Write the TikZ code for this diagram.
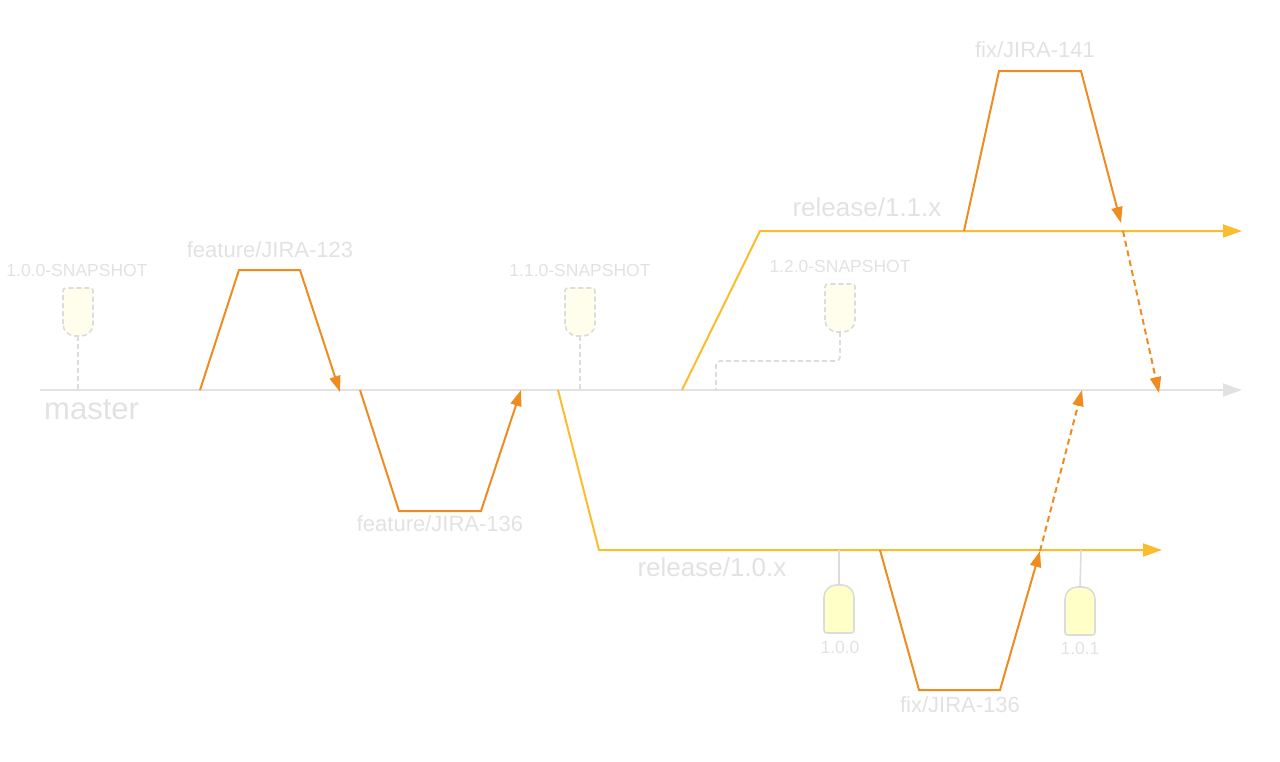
\documentclass[tikz,border=0pt]{standalone}
\usepackage{fontspec}
\setmainfont{Liberation Sans}
\usetikzlibrary{arrows.meta}
\definecolor{gitgrey}{HTML}{E2E2E2}
\definecolor{featorange}{HTML}{EF8C1F}
\definecolor{relyellow}{HTML}{FBBD2D}
\definecolor{snapfill}{HTML}{FFFDEB}
\definecolor{tagfill}{HTML}{FFFFC8}
\definecolor{tagline}{HTML}{DCDCDC}
\tikzset{
  mainline/.style={draw=gitgrey,line width=2pt,-{Triangle[length=19pt,width=13pt]}},
  feat/.style={draw=featorange,line width=2pt,-{Triangle[length=16pt,width=11pt]}},
  merge/.style={feat,dash pattern=on 6pt off 4pt},
  rel/.style={draw=relyellow,line width=2pt,-{Triangle[length=19pt,width=13pt]}},
  lbl/.style={text=gitgrey,inner sep=0pt,font=\fontsize{22}{22}\selectfont},
  small/.style={lbl,font=\fontsize{17.5}{17.5}\selectfont},
  big/.style={lbl,font=\fontsize{26}{26}\selectfont},
  snaptag/.style={draw=tagline,fill=snapfill,line width=1.6pt,dash pattern=on 5pt off 3pt},
  reltag/.style={draw=tagline,fill=tagfill,line width=1.6pt},
  snapline/.style={draw=tagline,line width=1.6pt,dash pattern=on 5pt off 3pt},
  tagline/.style={draw=tagline,line width=1.6pt},
}
% snapshot tag: x, top, bottom
\newcommand\snaptagat[3]{%
  \draw[snaptag] (#1-15,#3-12) -- (#1-15,#2+3) .. controls (#1-15,#2+1) and (#1-14,#2) .. (#1-12,#2)
    -- (#1+12,#2) .. controls (#1+14,#2) and (#1+15,#2+1) .. (#1+15,#2+3)
    -- (#1+15,#3-12) .. controls (#1+15,#3-5) and (#1+9,#3) .. (#1+3,#3)
    -- (#1-3,#3) .. controls (#1-9,#3) and (#1-15,#3-5) .. (#1-15,#3-12) -- cycle;}
% release tag: x, top, bottom
\newcommand\reltagat[3]{%
  \draw[reltag] (#1-15,#3-3) -- (#1-15,#2+12) .. controls (#1-15,#2+5) and (#1-9,#2) .. (#1-3,#2)
    -- (#1+3,#2) .. controls (#1+9,#2) and (#1+15,#2+5) .. (#1+15,#2+12)
    -- (#1+15,#3-3) .. controls (#1+15,#3-1) and (#1+14,#3) .. (#1+12,#3)
    -- (#1-12,#3) .. controls (#1-14,#3) and (#1-15,#3-1) .. (#1-15,#3-3) -- cycle;}

\begin{document}
\begin{tikzpicture}[x=1pt,y=-1pt]
\useasboundingbox (0,0) rectangle (1280,761);

% master
\coordinate (m0) at (40,390);
\coordinate (m1) at (1242,390);
\draw[mainline] (m0) -- (m1);
\node[lbl,font=\fontsize{31}{31}\selectfont,anchor=west] (master) at (44,410) {master};

% snapshots on master
\coordinate (s1) at (78,336);   \coordinate (s1m) at (78,390);
\coordinate (s2) at (580,336);  \coordinate (s2m) at (580,390);
\coordinate (s3) at (840,332);  \coordinate (s3m) at (716,390);
\draw[snapline] (s1) -- (s1m);
\draw[snapline] (s2) -- (s2m);
\draw[snapline,rounded corners=4pt] (s3) |- (716,361) -- (s3m);
\snaptagat{78}{288}{336}
\snaptagat{580}{288}{336}
\snaptagat{840}{284}{332}
\node[small] (snap100) at (77,270) {1.0.0-SNAPSHOT};
\node[small] (snap110) at (580,270) {1.1.0-SNAPSHOT};
\node[small] (snap120) at (840,266) {1.2.0-SNAPSHOT};

% feature/JIRA-123
\coordinate (f1a) at (200,390);
\coordinate (f1b) at (239,270);
\coordinate (f1c) at (300,270);
\coordinate (f1d) at (340,392);
\draw[feat] (f1a) -- (f1b) -- (f1c) -- (f1d);
\node[lbl] (feat123) at (270,250) {feature/JIRA-123};

% feature/JIRA-136
\coordinate (f2a) at (360,390);
\coordinate (f2b) at (399,511);
\coordinate (f2c) at (481,511);
\coordinate (f2d) at (521,390);
\draw[feat] (f2a) -- (f2b) -- (f2c) -- (f2d);
\node[lbl] (feat136) at (440,524) {feature/JIRA-136};

% release/1.0.x
\coordinate (r0a) at (558,390);
\coordinate (r0b) at (599,550);
\coordinate (r0c) at (1162,550);
\draw[rel] (r0a) -- (r0b) -- (r0c);
\node[big] (rel10) at (712,567) {release/1.0.x};

% release/1.1.x
\coordinate (r1a) at (682,390);
\coordinate (r1b) at (760,231);
\coordinate (r1c) at (1242,231);
\draw[rel] (r1a) -- (r1b) -- (r1c);
\node[big] (rel11) at (867,207) {release/1.1.x};

% fix/JIRA-141 on release/1.1.x
\coordinate (x1a) at (964,231);
\coordinate (x1b) at (999,71);
\coordinate (x1c) at (1081,71);
\coordinate (x1d) at (1121,223);
\draw[feat] (x1a) -- (x1b) -- (x1c) -- (x1d);
\node[lbl] (fix141) at (1035,50) {fix/JIRA-141};
\coordinate (x1e) at (1123,231);
\coordinate (x1f) at (1159,393);
\draw[merge] (x1e) -- (x1f);

% fix/JIRA-136 on release/1.0.x
\coordinate (x2a) at (880,550);
\coordinate (x2b) at (919,690);
\coordinate (x2c) at (1000,690);
\coordinate (x2d) at (1040,551);
\draw[feat] (x2a) -- (x2b) -- (x2c) -- (x2d);
\node[lbl] (fix136) at (960,705) {fix/JIRA-136};
\coordinate (x2f) at (1082,390);
\draw[merge] (x2d) -- (x2f);

% release tags
\coordinate (t1a) at (839,550); \coordinate (t1b) at (839,585);
\coordinate (t2a) at (1081,550); \coordinate (t2b) at (1080,587);
\draw[tagline] (t1a) -- (t1b);
\draw[tagline] (t2a) -- (t2b);
\reltagat{839}{585}{633}
\reltagat{1080}{587}{635}
\node[small] (v100) at (840,647) {1.0.0};
\node[small] (v101) at (1080,648) {1.0.1};
\end{tikzpicture}
\end{document}
